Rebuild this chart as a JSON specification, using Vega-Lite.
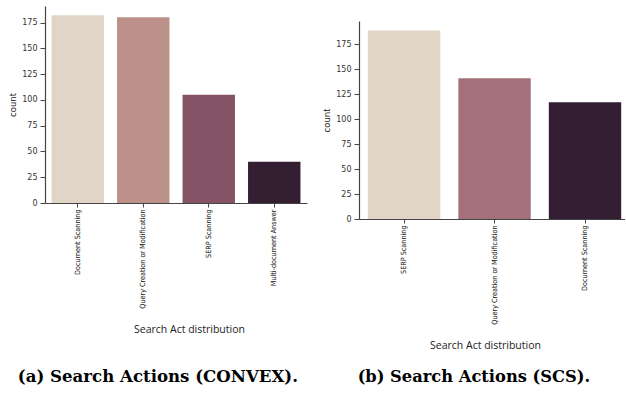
{
  "$schema": "https://vega.github.io/schema/vega-lite/v6.json",
  "padding": {"left": 8, "top": 6, "right": 0, "bottom": 0},
  "background": "white",
  "spacing": 15,
  "datasets": {
    "convex": [
      {"act": "Document Scanning", "count": 182},
      {"act": "Query Creation or Modification", "count": 180},
      {"act": "SERP Scanning", "count": 105},
      {"act": "Multi-document Answer", "count": 40}
    ],
    "scs": [
      {"act": "SERP Scanning", "count": 189},
      {"act": "Query Creation or Modification", "count": 141},
      {"act": "Document Scanning", "count": 117}
    ],
    "none": []
  },
  "config": {
    "view": {"stroke": null},
    "axis": {
      "grid": false,
      "domainColor": "#444",
      "domainWidth": 1.2,
      "tickColor": "#444",
      "tickWidth": 1,
      "labelColor": "#333",
      "titleColor": "#222",
      "titleFontWeight": "normal"
    },
    "axisY": {
      "tickSize": 5,
      "labelFont": "DejaVu Sans",
      "labelFontSize": 8,
      "labelPadding": 3,
      "titleFont": "DejaVu Sans",
      "titleFontSize": 8.5,
      "titlePadding": 4
    },
    "axisX": {
      "tickSize": 4,
      "labelAngle": -90,
      "labelFont": "DejaVu Sans Condensed",
      "labelFontSize": 7.2,
      "labelPadding": 2,
      "labelColor": "#111",
      "titleFont": "Open Sans",
      "titleFontSize": 10.5,
      "titlePadding": 16
    }
  },
  "resolve": {"scale": {"color": "independent", "x": "independent", "y": "independent"}},
  "hconcat": [
    {
      "title": {
        "text": "(a) Search Actions (CONVEX).",
        "orient": "bottom",
        "frame": "bounds",
        "anchor": "middle",
        "offset": 34,
        "font": "DejaVu Serif",
        "fontSize": 16.6,
        "fontWeight": "bold",
        "color": "black"
      },
      "width": 262,
      "height": 197,
      "data": {"name": "convex"},
      "mark": {"type": "bar"},
      "encoding": {
        "x": {
          "field": "act", "type": "nominal", "sort": null,
          "scale": {"paddingInner": 0.2, "paddingOuter": 0.1},
          "axis": {"title": "Search Act distribution", "titleX": 144, "titlePadding": 16}
        },
        "y": {
          "field": "count", "type": "quantitative",
          "scale": {"domain": [0, 191], "nice": false},
          "axis": {"title": "count", "values": [0, 25, 50, 75, 100, 125, 150, 175]}
        },
        "color": {
          "field": "act", "type": "nominal", "legend": null,
          "scale": {
            "domain": ["Document Scanning", "Query Creation or Modification", "SERP Scanning", "Multi-document Answer"],
            "range": ["#e0d5c6", "#bb918a", "#845366", "#331e32"]
          }
        }
      }
    },
    {
      "title": {
        "text": "(b) Search Actions (SCS).",
        "orient": "bottom",
        "frame": "bounds",
        "anchor": "middle",
        "offset": 18,
        "font": "DejaVu Serif",
        "fontSize": 16.3,
        "fontWeight": "bold",
        "color": "black"
      },
      "spacing": 14,
      "vconcat": [
        {
          "width": 266,
          "height": 1,
          "data": {"name": "none"},
          "mark": {"type": "rule"},
          "encoding": {}
        },
        {
          "width": 266,
          "height": 198,
          "data": {"name": "scs"},
          "mark": {"type": "bar"},
          "encoding": {
            "x": {
              "field": "act", "type": "nominal", "sort": null,
              "scale": {"paddingInner": 0.2, "paddingOuter": 0.07, "align": 0.7},
              "axis": {"title": "Search Act distribution", "titleX": 126, "titlePadding": 16}
            },
            "y": {
              "field": "count", "type": "quantitative",
              "scale": {"domain": [0, 198.5], "nice": false},
              "axis": {"title": "count", "values": [0, 25, 50, 75, 100, 125, 150, 175]}
            },
            "color": {
              "field": "act", "type": "nominal", "legend": null,
              "scale": {
                "domain": ["SERP Scanning", "Query Creation or Modification", "Document Scanning"],
                "range": ["#e1d5c5", "#a3717a", "#341e33"]
              }
            }
          }
        }
      ]
    }
  ]
}
